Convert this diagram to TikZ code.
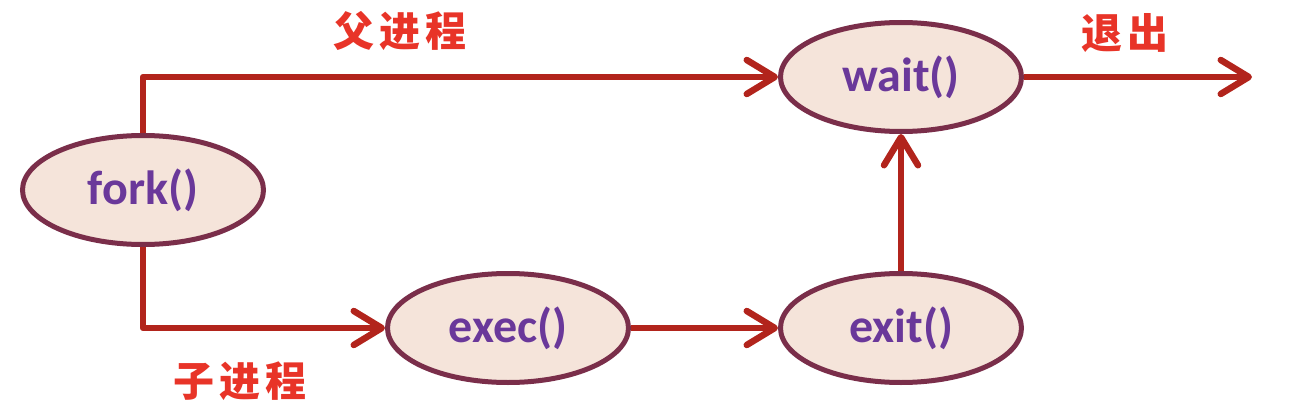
\documentclass[tikz,border=0pt]{standalone}
\usepackage{fontspec}
\setmainfont{Carlito}
\newfontfamily\cjk{Noto Sans CJK SC}
\usetikzlibrary{shapes.geometric,arrows.meta}
\definecolor{linered}{RGB}{178,36,28}
\definecolor{ellborder}{RGB}{122,46,74}
\definecolor{ellfill}{RGB}{245,228,218}
\definecolor{txtpurple}{RGB}{106,56,154}
\definecolor{cjkred}{RGB}{232,52,40}
\tikzset{
  proc/.style={ellipse, draw=ellborder, fill=ellfill, line width=5pt,
    minimum width=241pt, minimum height=109pt, inner sep=0pt,
    text=txtpurple, font=\fontsize{48}{52}\selectfont\bfseries},
  conn/.style={draw=linered, line width=6.5pt,
    -{Straight Barb[length=28pt,width=34pt,round]}},
  lbl/.style={text=cjkred, font=\cjk\fontsize{41}{45}\selectfont\bfseries, inner sep=0pt}
}
\begin{document}
\begin{tikzpicture}[x=1pt,y=-1pt]
\useasboundingbox (0,0) rectangle (1310,404);
\node[proc] (fork) at (143,190) {fork()};
\node[proc] (wait) at (901,77) {wait()};
\node[proc] (exec) at (508,328) {exec()};
\node[proc] (exit) at (901,328) {exit()};
\coordinate (out) at (1252,77);
\draw[conn, line join=round] (fork.north) |- (wait.west);
\draw[conn, line join=round] (fork.south) |- (exec.west);
\draw[conn] (exec.east) -- (exit.west);
\draw[conn] (exit.north) -- (wait.south);
\draw[conn] (wait.east) -- (out);
\node[lbl] (parent) at (400,31) {父\hspace{5pt}进\hspace{5pt}程};
\node[lbl] (quit) at (1125,33) {退\hspace{5pt}出};
\node[lbl] (child) at (240,381) {子\hspace{5pt}进\hspace{5pt}程};
\end{tikzpicture}
\end{document}
